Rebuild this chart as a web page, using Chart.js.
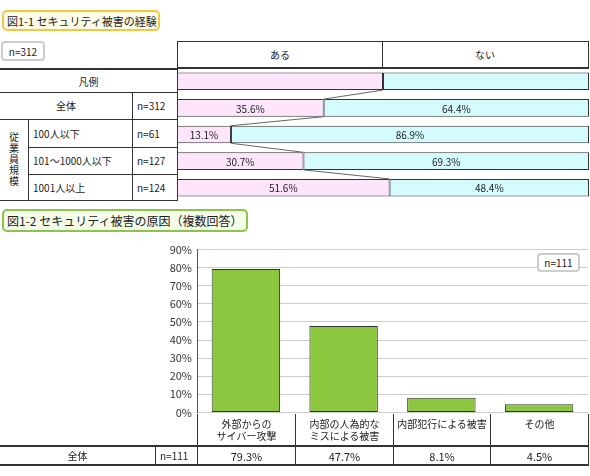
<!DOCTYPE html>
<html><head><meta charset="utf-8">
<script src="https://cdn.jsdelivr.net/npm/chart.js@4"></script>
<style>
body{margin:0;width:590px;height:476px;background:#fff;font-family:"Noto Sans CJK JP",sans-serif;font-size:10px;color:#222;position:relative;overflow:hidden}
.a{position:absolute;box-sizing:border-box;display:flex;align-items:center;justify-content:center;white-space:nowrap}
.l{justify-content:flex-start;padding-left:5px}
.b{border:1px solid #333}
canvas{position:absolute}
</style></head><body>
<div class="a" style="left:2px;top:10px;width:158px;height:21px;border:2px solid #f2c744;border-radius:5px;background:#fffbe6;font-size:11px;justify-content:flex-start;padding-left:3px">図1-1 セキュリティ被害の経験</div>
<div class="a" style="left:1px;top:41px;width:44px;height:20px;border:2px solid #ccc;border-radius:4px">n=312</div>
<div class="a b" style="left:177px;top:41px;width:206px;height:28px;border-width:1px 1px 2px 1px">ある</div>
<div class="a b" style="left:382px;top:41px;width:207px;height:28px;border-width:1px 1px 2px 0">ない</div>
<div class="a b" style="left:0;top:68px;width:178px;height:25px;border-width:2px 1px 1px 0">凡例</div>
<div class="a b" style="left:0;top:92px;width:133px;height:28px;border-width:0 1px 1px 0">全体</div>
<div class="a b l" style="left:132px;top:92px;width:46px;height:28px;border-width:0 1px 1px 0" id="nAll"></div>
<div class="a b" style="left:0;top:119px;width:29px;height:82px;border-width:0 1px 1px 0;writing-mode:vertical-rl;letter-spacing:1px">従業員規模</div>
<div id="rows"></div>
<canvas id="c1" width="412" height="133" style="left:177px;top:68px;width:412px;height:133px"></canvas>

<div class="a" style="left:2px;top:209px;width:246px;height:23px;border:2px solid #8cc34a;border-radius:5px;background:#f4fbe9;font-size:12px;justify-content:flex-start;padding-left:3px">図1-2 セキュリティ被害の原因（複数回答）</div>
<canvas id="c2" width="430" height="186" style="left:160px;top:238px;width:430px;height:186px"></canvas>
<div class="a" style="left:537px;top:253px;width:43px;height:19px;border:2px solid #ccc;border-radius:4px;background:#fff">n=111</div>
<div id="bot"></div>
<script>
const rowLabels=["100人以下","101～1000人以下","1001人以上"];
const rowN=["n=61","n=127","n=124"];
const totalN="n=312";
const barCats=["凡例","全体","100人以下","101～1000人以下","1001人以上"];
const aru=[50,35.6,13.1,30.7,51.6];
const nai=[50,64.4,86.9,69.3,48.4];
const causeLabels=[["外部からの","サイバー攻撃"],["内部の人為的な","ミスによる被害"],["内部犯行による被害"],["その他"]];
const causeVals=[79.3,47.7,8.1,4.5];
const causeN="n=111";
const yTicks=[0,10,20,30,40,50,60,70,80,90];

document.getElementById('nAll').textContent=totalN;
const rt=[119,147,174],rh=[29,28,27];
let h='';
rowLabels.forEach((s,i)=>{
 h+=`<div class="a b l" style="left:28px;top:${rt[i]}px;width:105px;height:${rh[i]}px;border-width:0 1px 1px 0">${s}</div>`;
 h+=`<div class="a b l" style="left:132px;top:${rt[i]}px;width:46px;height:${rh[i]}px;border-width:0 1px 1px 0">${rowN[i]}</div>`;
});
document.getElementById('rows').innerHTML=h;
const xs=[197,295,393,490,588];
let b='';
causeLabels.forEach((s,i)=>{
 b+=`<div class="a b" style="left:${xs[i]}px;top:414px;width:${xs[i+1]-xs[i]+1}px;height:32px;border-width:0 1px 0 1px;align-items:flex-start;padding-top:4px;text-align:center;line-height:12px">${s.join('<br>')}</div>`;
 b+=`<div class="a b" style="left:${xs[i]}px;top:445px;width:${xs[i+1]-xs[i]+1}px;height:21px;border-width:2px 1px 2px 1px;font-size:11px">${causeVals[i]}%</div>`;
});
b+=`<div class="a b" style="left:0;top:445px;width:156px;height:21px;border-width:2px 1px 2px 0">全体</div>`;
b+=`<div class="a b l" style="left:155px;top:445px;width:43px;height:21px;border-width:2px 1px 2px 0">${causeN}</div>`;
document.getElementById('bot').innerHTML=b;

const FONT="Noto Sans CJK JP";
const labelPlug={id:'lbl',afterDatasetsDraw(ch){
 const ctx=ch.ctx;ctx.save();ctx.font='10px "'+FONT+'"';ctx.fillStyle='#222';ctx.textAlign='center';ctx.textBaseline='middle';
 ch.data.datasets.forEach((ds,di)=>{ch.getDatasetMeta(di).data.forEach((el,i)=>{if(i===0)return;
  const l=Math.min(el.x,el.base),r=Math.max(el.x,el.base);ctx.fillText(ds.data[i].toFixed(1)+'%',(l+r)/2,el.y+1);});});
 const m=ch.getDatasetMeta(0).data;ctx.strokeStyle='#666';ctx.lineWidth=1;
 for(let i=0;i<m.length-1;i++){ctx.beginPath();ctx.moveTo(m[i].x,m[i].y+m[i].height/2);ctx.lineTo(m[i+1].x,m[i+1].y-m[i+1].height/2);ctx.stroke();}
 ctx.restore();}};
new Chart(document.getElementById('c1'),{type:'bar',
 data:{labels:barCats,datasets:[
  {data:aru,backgroundColor:'#fde6fb',borderColor:'#333',borderWidth:1,borderSkipped:false,barPercentage:0.66,categoryPercentage:1},
  {data:nai,backgroundColor:'#d4fbfd',borderColor:'#333',borderWidth:1,borderSkipped:false,barPercentage:0.66,categoryPercentage:1}]},
 options:{indexAxis:'y',responsive:false,animation:false,layout:{padding:0},
  plugins:{legend:{display:false},tooltip:{enabled:false}},
  scales:{x:{stacked:true,min:0,max:100,display:false},y:{stacked:true,display:false}}},
 plugins:[labelPlug]});

new Chart(document.getElementById('c2'),{type:'bar',
 data:{labels:causeLabels.map(s=>s.join('')),datasets:[{data:causeVals,backgroundColor:'#8dc63f',borderColor:'#333',borderWidth:1,borderSkipped:false,barPercentage:0.7,categoryPercentage:1}]},
 options:{responsive:false,animation:false,layout:{padding:{top:0,bottom:0,right:2,left:0}},
  plugins:{legend:{display:false},tooltip:{enabled:false}},
  scales:{x:{display:false},
   y:{min:0,max:90,afterBuildTicks(a){a.ticks=yTicks.map(v=>({value:v}));},afterFit(a){a.width=37;},
    ticks:{callback:v=>v+'%',color:'#333',font:{family:FONT,size:11},padding:5},
    grid:{color:'#ccc',drawTicks:false},border:{color:'#555'}}}}});
</script>
</body></html>
